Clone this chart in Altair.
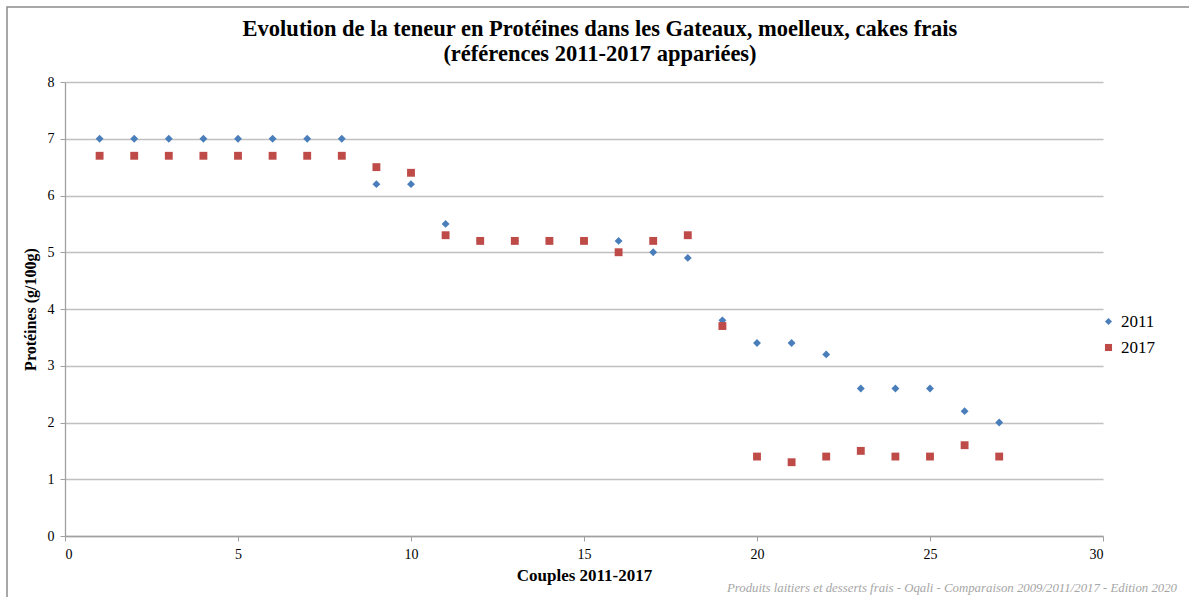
import altair as alt
import pandas as pd

# Paired product references (couples), protein content in g/100g
couples = list(range(1, 28))
prot_2011 = [7.0, 7.0, 7.0, 7.0, 7.0, 7.0, 7.0, 7.0, 6.2, 6.2,
             5.5, 5.2, 5.2, 5.2, 5.2, 5.2, 5.0, 4.9, 3.8, 3.4,
             3.4, 3.2, 2.6, 2.6, 2.6, 2.2, 2.0]
prot_2017 = [6.7, 6.7, 6.7, 6.7, 6.7, 6.7, 6.7, 6.7, 6.5, 6.4,
             5.3, 5.2, 5.2, 5.2, 5.2, 5.0, 5.2, 5.3, 3.7, 1.4,
             1.3, 1.4, 1.5, 1.4, 1.4, 1.6, 1.4]
years = ["2011", "2017"]
colors = ["#4a7ebb", "#be4b48"]
shapes = ["diamond", "square"]

df = pd.DataFrame(
    [{"couple": c, "prot": v, "annee": "2011"} for c, v in zip(couples, prot_2011)]
    + [{"couple": c, "prot": v, "annee": "2017"} for c, v in zip(couples, prot_2017)]
)

SERIF = "Liberation Serif"
W, H = 1038, 454

points = alt.Chart(df).mark_point(filled=True, opacity=1, size=62).encode(
    x=alt.X("couple:Q", title="Couples 2011-2017",
            scale=alt.Scale(domain=[0, 30], nice=False),
            axis=alt.Axis(values=[0, 5, 10, 15, 20, 25, 30], grid=False,
                          titleFontSize=17, titleFontWeight="bold",
                          titlePadding=6)),
    y=alt.Y("prot:Q", title="Protéines (g/100g)",
            scale=alt.Scale(domain=[0, 8], nice=False),
            axis=alt.Axis(values=list(range(0, 9)), grid=True,
                          titleFontSize=16, titleFontWeight="bold",
                          titlePadding=9)),
    color=alt.Color("annee:N", scale=alt.Scale(domain=years, range=colors),
                    legend=alt.Legend(title=None, orient="none",
                                      legendX=1035, legendY=231,
                                      labelFontSize=17, labelFont=SERIF,
                                      symbolSize=50, rowPadding=8,
                                      labelLimit=200)),
    shape=alt.Shape("annee:N", scale=alt.Scale(domain=years, range=shapes)),
    order=alt.Order("annee:N"),
)

# outer frame of the chart
frame = alt.Chart(pd.DataFrame({"k": [0]})).mark_rect(
    fill=None, stroke="#8c8c8c", strokeWidth=1.5
).encode(x=alt.value(-58), x2=alt.value(1140), y=alt.value(-75), y2=alt.value(530))

source = alt.Chart(pd.DataFrame({
    "t": ["Produits laitiers et desserts frais - Oqali - Comparaison 2009/2011/2017  - Edition 2020"]
})).mark_text(
    align="right", baseline="alphabetic", font=SERIF, fontStyle="italic",
    fontSize=12.8, color="#a6a6a6"
).encode(text="t:N", x=alt.value(1112), y=alt.value(510))

chart = alt.layer(frame, points, source).properties(
    width=W, height=H,
    padding={"left": 65, "top": 82, "right": 86, "bottom": 61},
    autosize=alt.AutoSizeParams(type="none"),
    title=alt.TitleParams(
        ["Evolution de la teneur en Protéines dans les Gateaux, moelleux, cakes frais",
         "(références 2011-2017 appariées)"],
        font=SERIF, fontSize=22.5, fontWeight="bold", color="#000000",
        anchor="middle", dx=16, offset=-59, lineHeight=25,
    ),
).configure(background="white").configure_view(stroke=None).configure_axis(
    labelFont=SERIF, titleFont=SERIF, labelFontSize=14, labelColor="#000000",
    titleColor="#000000", domainColor="#a0a0a0", tickColor="#a0a0a0",
    gridColor="#c0c0c0", gridWidth=1.3, domainWidth=1.3, tickSize=5,
    labelPadding=6,
)

chart.save("out.html", embed_options={"renderer": "svg", "actions": False})
